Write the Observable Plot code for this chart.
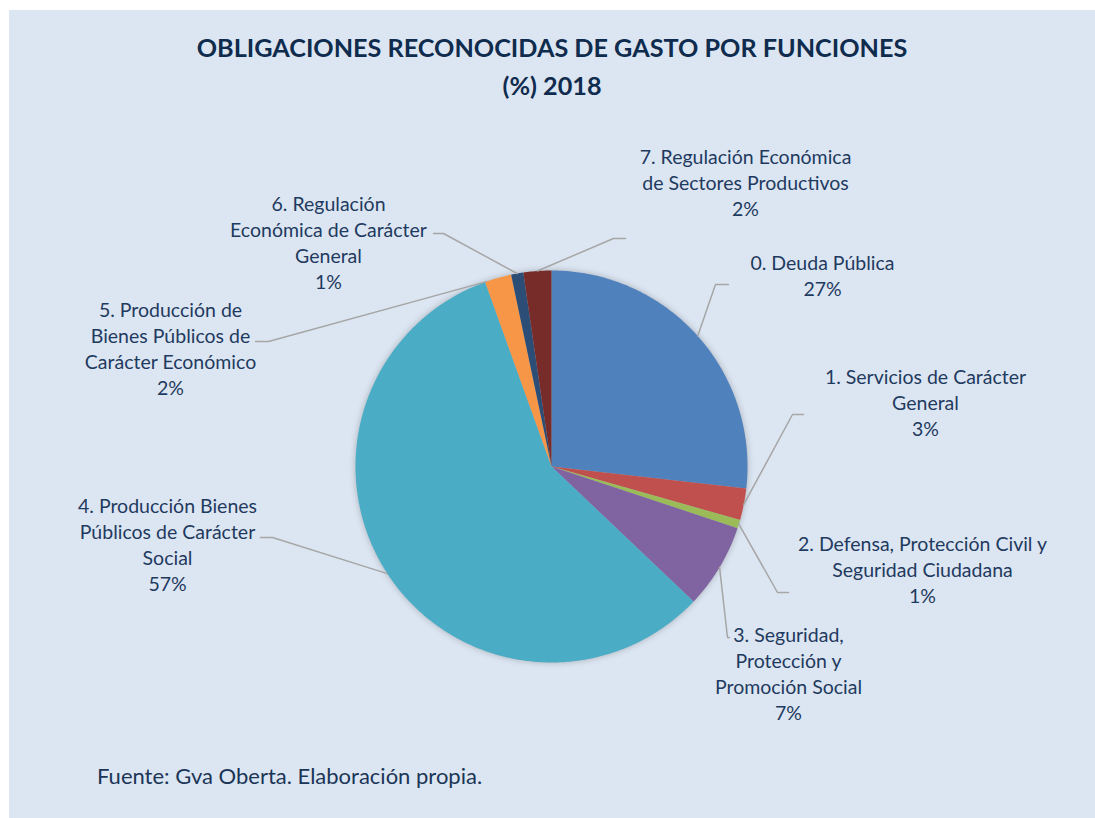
<!DOCTYPE html>
<html>
<head>
<meta charset="utf-8">
<script src="https://cdn.jsdelivr.net/npm/d3@7"></script>
<script src="https://cdn.jsdelivr.net/npm/@observablehq/plot@0.6"></script>
<style>
  html, body { margin: 0; padding: 0; background: #ffffff; }
  #page { position: relative; width: 1095px; height: 818px; overflow: hidden; font-family: Lato, "Open Sans", sans-serif; }
  #bg { position: absolute; left: 9px; top: 10px; right: 0; bottom: 0; background: #dce6f2; }
  #title { position: absolute; left: 9px; right: 0; top: 28px; text-align: center; font-weight: bold; font-size: 25.2px; line-height: 38px; color: #0f2b4d; }
  #chart { position: absolute; left: 0; top: 0; }
  #caption { position: absolute; left: 97px; top: 763px; font-size: 22px; line-height: 26px; color: #1b3557; }
</style>
</head>
<body>
<div id="page">
  <div id="bg"></div>
  <div id="title">OBLIGACIONES RECONOCIDAS DE GASTO POR FUNCIONES<br>(%) 2018</div>
  <div id="chart"></div>
  <div id="caption">Fuente: Gva Oberta. Elaboración propia.</div>
</div>
<script>
// ---- Data ----
const categories = [
  "0. Deuda Pública",
  "1. Servicios de Carácter General",
  "2. Defensa, Protección Civil y Seguridad Ciudadana",
  "3. Seguridad, Protección y Promoción Social",
  "4. Producción Bienes Públicos de Carácter Social",
  "5. Producción de Bienes Públicos de Carácter Económico",
  "6. Regulación Económica de Carácter General",
  "7. Regulación Económica de Sectores Productivos"
];
const values = [26.8, 2.6, 0.7, 7.0, 57.4, 2.2, 1.0, 2.3];
const colors = ["#4f81bd", "#c0504d", "#9bbb59", "#8064a2", "#4bacc6", "#f79646", "#2c4d75", "#772c2a"];
// wrapped label text as shown in the chart
const labelLines = [
  ["0. Deuda Pública"],
  ["1. Servicios de Carácter", "General"],
  ["2. Defensa, Protección Civil y", "Seguridad Ciudadana"],
  ["3. Seguridad,", "Protección y", "Promoción Social"],
  ["4. Producción Bienes", "Públicos de Carácter", "Social"],
  ["5. Producción de", "Bienes Públicos de", "Carácter Económico"],
  ["6. Regulación", "Económica de Carácter", "General"],
  ["7. Regulación Económica", "de Sectores Productivos"]
];

// ---- Layout (pixels) ----
const W = 1095, H = 818;
const pie = {cx: 551, cy: 466, r: 196};
// label block centre and leader elbow / end points, plus where along the slice the leader starts (0..1)
const labelLayout = [
  {lx: 822, ly: 274.5, elbow: [715, 284], end: [728, 284], at: 0.5},
  {lx: 925, ly: 401.5, elbow: [792, 414], end: [803, 414], at: 0.5},
  {lx: 922, ly: 568.5, elbow: [777, 592], end: [788, 592], at: 0.5},
  {lx: 788, ly: 672,   elbow: [727, 637], end: [729, 637], at: 0.5},
  {lx: 167, ly: 543,   elbow: [272, 537], end: [260, 537], at: 0.5},
  {lx: 170, ly: 347.5, elbow: [268, 341], end: [255, 341], at: 0.05},
  {lx: 328, ly: 241,   elbow: [443, 233], end: [433, 233], at: 0.5},
  {lx: 745, ly: 181.5, elbow: [613, 238], end: [625, 238], at: 0.5}
];

// ---- Build geometry from the data ----
const arcs = d3.pie().sort(null).value(d => d)(values);
const pt = (a, r) => [pie.cx + r * Math.sin(a), pie.cy - r * Math.cos(a)];

const slicePts = [];
arcs.forEach((a, i) => {
  const n = Math.max(4, Math.ceil((a.endAngle - a.startAngle) / 0.01));
  slicePts.push({key: categories[i], x: pie.cx, y: pie.cy});
  for (let k = 0; k <= n; k++) {
    const t = a.startAngle + (a.endAngle - a.startAngle) * k / n;
    const [x, y] = pt(t, pie.r);
    slicePts.push({key: categories[i], x, y});
  }
});

const leaderPts = [];
arcs.forEach((a, i) => {
  const L = labelLayout[i];
  const ang = a.startAngle + (a.endAngle - a.startAngle) * L.at;
  const [sx, sy] = pt(ang, pie.r);
  leaderPts.push({key: categories[i], x: sx, y: sy});
  leaderPts.push({key: categories[i], x: L.elbow[0], y: L.elbow[1]});
  leaderPts.push({key: categories[i], x: L.end[0], y: L.end[1]});
});

const labels = categories.map((c, i) => ({
  x: labelLayout[i].lx,
  y: labelLayout[i].ly,
  text: labelLines[i].join("\n") + "\n" + Math.round(values[i]) + "%"
}));

const chart = Plot.plot({
  width: W, height: H, margin: 0,
  x: {domain: [0, W], range: [0, W], axis: null},
  y: {domain: [0, H], range: [0, H], axis: null},
  color: {domain: categories, range: colors},
  style: {background: "transparent", overflow: "visible"},
  marks: [
    Plot.line(slicePts, {x: "x", y: "y", z: "key", fill: "key", stroke: "none", curve: "linear-closed"}),
    Plot.line(leaderPts, {x: "x", y: "y", z: "key", stroke: "#a6a6a6", strokeWidth: 1.5}),
    Plot.text(labels, {x: "x", y: "y", text: "text", textAnchor: "middle", lineAnchor: "middle",
      lineHeight: 26 / 19.5, fontSize: 19.5, fill: "#1f3a5f", fontFamily: "Lato"})
  ]
});
const firstLine = chart.querySelector('g[aria-label="line"]');
if (firstLine) firstLine.style.filter = "drop-shadow(0px 0px 3px rgba(0,0,0,0.25))";
document.getElementById("chart").appendChild(chart);
</script>
</body>
</html>
